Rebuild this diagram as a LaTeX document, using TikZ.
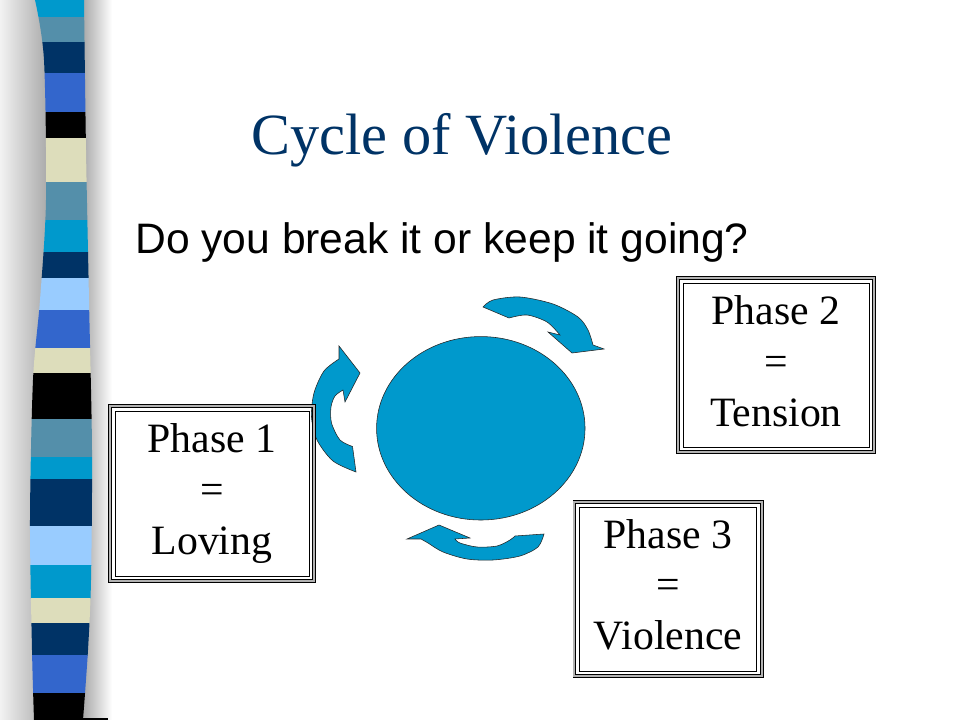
\documentclass[tikz,border=0pt]{standalone}
\usepackage{fontspec}
\setmainfont{Liberation Serif}
\newfontfamily\subfont{Liberation Sans}
\usetikzlibrary{shapes.geometric}
\definecolor{titleblue}{RGB}{0,51,102}
\definecolor{cycleblue}{RGB}{0,153,204}
\definecolor{stcyan}{RGB}{0,153,204}
\definecolor{ststeel}{RGB}{84,143,170}
\definecolor{stnavy}{RGB}{0,51,102}
\definecolor{stroyal}{RGB}{51,102,204}
\definecolor{stbeige}{RGB}{221,221,187}
\definecolor{stlight}{RGB}{153,204,255}

\begin{document}
\begin{tikzpicture}[x=0.025cm, y=-0.025cm,
  phasebox/.style={draw=black, line width=0.7pt, double=gray!60, double distance=1.4pt, inner sep=0pt},
  phasetext/.style={font=\fontsize{29.7}{36}\selectfont, anchor=base, inner sep=0pt},
  cyclearrow/.style={fill=cycleblue, draw=black!85, line width=0.4pt}]
\useasboundingbox (0,0) rectangle (960,720);

% striped bar on the left
\shade[left color=gray!10, right color=gray!65] (0,0) rectangle (46,720);
\shade[left color=gray!70, right color=white] (82,0) rectangle (112,720);
\begin{scope}
\clip plot[smooth] coordinates {(35,0) (44,60) (46,200) (40,300) (33,380) (30,520) (32,650) (34,720)}
   -- plot[smooth] coordinates {(83,720) (88,650) (91,580) (92,450) (89,300) (86,150) (84,0)} -- cycle;
\foreach \ya/\yb/\c in {0/17/stcyan, 17/42/ststeel, 42/73/stnavy, 73/112/stroyal, 112/138/black,
    138/182/stbeige, 182/220/ststeel, 220/252/stcyan, 252/278/stnavy, 278/310/stlight,
    310/348/stroyal, 348/373/stbeige, 373/419/black, 419/457/ststeel, 457/479/stcyan,
    479/526/stnavy, 526/565/stlight, 565/598/stcyan, 598/623/stbeige, 623/655/stnavy,
    655/693/stroyal, 693/720/black}
    \fill[\c] (20,\ya) rectangle (100,\yb+0.5);
\end{scope}
\draw[line width=1pt] (80,719) -- (108,719);

\node[anchor=base, inner sep=0pt, text=titleblue, font=\fontsize{41.5}{50}\selectfont] (title) at (462,155) {Cycle of Violence};
\node[anchor=base west, inner sep=0pt, font=\subfont\fontsize{30.3}{36}\selectfont] (question) at (135,254) {Do you break it or keep it going?};

\node[ellipse, fill=cycleblue, draw=black!85, line width=0.4pt, minimum width=5.21cm, minimum height=4.585cm, inner sep=0pt] (hub) at (480.8,428.3) {};

% curved arrows round the hub
\filldraw[cyclearrow] plot[smooth] coordinates {(483,307) (493,300) (520,297) (553,304) (578,317) (588,330) (593,345)}
   -- (604,349) -- (572,353) -- (548,332)
   -- plot[smooth] coordinates {(560,335) (547,322) (527,315) (509,318)} -- cycle;
\filldraw[cyclearrow] (339,346) -- (360,373) -- (345,402)
   -- plot[smooth] coordinates {(343,390) (335,396) (331,407) (331.5,423) (340,440) (352.5,446.5)}
   -- plot[smooth] coordinates {(356,472) (333,461) (317,440) (311.5,417) (314,393) (324,371) (339,359)} -- cycle;
\filldraw[cyclearrow] (407,539) -- (439,525) -- (470,538)
   -- plot[smooth] coordinates {(455,539) (460,543) (477,547) (497,546) (510,540) (515,536)}
   -- plot[smooth] coordinates {(544,534) (538,547) (520,556) (493,560) (467,559) (443,552) (428,543) (421,539)} -- cycle;

% phase boxes
\foreach \n/\cx/\cy/\w/\h in {1/212/493.5/5.1/4.375, 2/776/365/4.9/4.35, 3/668/589.2/4.675/4.35} {
    \node[phasebox, minimum width=\w cm, minimum height=\h cm] (box\n) at (\cx,\cy) {};
    \draw[line width=0.6pt] ([shift={(5.5,5.5)}]box\n.north west) rectangle ([shift={(-5.5,-5.5)}]box\n.south east);
}
\foreach \n/\cx/\by/\word in {1/212/453/Loving, 2/776/325/Tension, 3/668/548.3/Violence} {
    \node[phasetext] (phase\n) at (\cx,\by) {Phase \n};
    \node[phasetext] (equals\n) at (\cx,\by+50.7) {=};
    \node[phasetext] (state\n) at (\cx,\by+101.4) {\word};
}
\end{tikzpicture}
\end{document}
